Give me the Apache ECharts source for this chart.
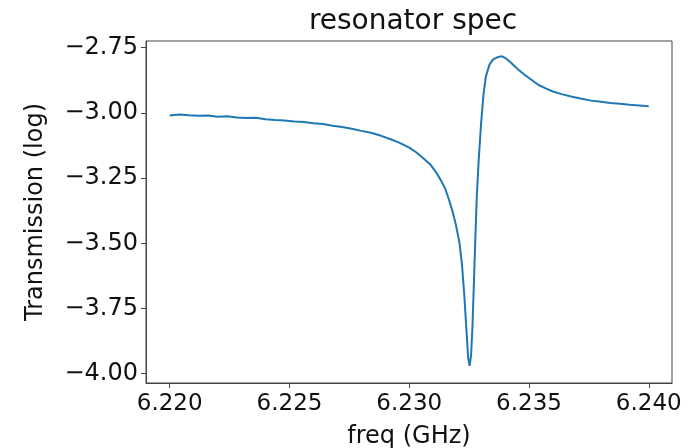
<!DOCTYPE html>
<html>
<head>
<meta charset="utf-8">
<script src="https://cdn.jsdelivr.net/npm/echarts@6/dist/echarts.min.js"></script>
<style>
  html, body { margin: 0; padding: 0; background: #fff; }
  #chart { width: 700px; height: 448px; }
</style>
</head>
<body>
<div id="chart"></div>
<script>
// frequency (GHz) and transmission (log)
const freq = [
  6.22000, 6.22040, 6.22080, 6.22120, 6.22160, 6.22200, 6.22240, 6.22280, 6.22320, 6.22360,
  6.22400, 6.22440, 6.22480, 6.22520, 6.22560, 6.22600, 6.22640, 6.22680, 6.22720, 6.22760,
  6.22800, 6.22840, 6.22880, 6.22920, 6.22960, 6.23000, 6.23030, 6.23060, 6.23090, 6.23110,
  6.23130, 6.23150, 6.23165, 6.23180, 6.23195, 6.23210, 6.23220, 6.23230, 6.23240, 6.23246,
  6.23252, 6.23258, 6.23264, 6.23270, 6.23276, 6.23282, 6.23290, 6.23300, 6.23310, 6.23320,
  6.23335, 6.23350, 6.23370, 6.23388, 6.23405, 6.23425, 6.23450, 6.23480, 6.23510, 6.23540,
  6.23570, 6.23600, 6.23640, 6.23680, 6.23720, 6.23760, 6.23800, 6.23840, 6.23880, 6.23920,
  6.23960, 6.24000
];
const trans = [
  -3.010, -3.006, -3.009, -3.011, -3.010, -3.015, -3.013, -3.018, -3.020, -3.019,
  -3.024, -3.027, -3.029, -3.033, -3.035, -3.040, -3.043, -3.049, -3.054, -3.061,
  -3.069, -3.076, -3.087, -3.100, -3.115, -3.133, -3.152, -3.175, -3.200, -3.225,
  -3.255, -3.290, -3.330, -3.375, -3.430, -3.500, -3.580, -3.700, -3.850, -3.940,
  -3.970, -3.930, -3.820, -3.650, -3.480, -3.320, -3.180, -3.040, -2.930, -2.860,
  -2.815, -2.795, -2.786, -2.783, -2.792, -2.808, -2.830, -2.853, -2.873, -2.893,
  -2.906, -2.918, -2.929, -2.938, -2.946, -2.953, -2.957, -2.962, -2.965, -2.969,
  -2.972, -2.975
];
const xTicks = [6.220, 6.225, 6.230, 6.235, 6.240];
const yTicks = [-4.00, -3.75, -3.50, -3.25, -3.00, -2.75];

const chart = echarts.init(document.getElementById('chart'));
const font = 'DejaVu Sans';
const axisColor = '#444';

const option = {
  animation: false,
  title: {
    text: 'resonator spec',
    left: 408,
    textAlign: 'center',
    top: 3,
    textStyle: { fontFamily: font, fontSize: 28, fontWeight: 'normal', color: '#111' }
  },
  grid: {
    left: 146, right: 28, top: 41, bottom: 65,
    outerBoundsMode: 'none',
    show: true, borderColor: axisColor, borderWidth: 1
  },
  xAxis: {
    type: 'value',
    min: 6.21901,
    max: 6.24097,
    name: 'freq (GHz)',
    nameLocation: 'middle',
    nameGap: 42,
    nameTextStyle: { fontFamily: font, fontSize: 24, color: '#111' },
    splitLine: { show: false },
    axisLine: { show: true, lineStyle: { color: axisColor, width: 1 } },
    axisTick: { show: true, customValues: xTicks, length: 5, lineStyle: { color: axisColor } },
    axisLabel: {
      customValues: xTicks,
      margin: 10,
      fontFamily: font, fontSize: 23, color: '#111',
      formatter: v => v.toFixed(3)
    }
  },
  yAxis: {
    type: 'value',
    min: -4.0356,
    max: -2.7244,
    name: 'Transmission (log)',
    nameLocation: 'middle',
    nameGap: 98,
    nameTextStyle: { fontFamily: font, fontSize: 24, color: '#111' },
    splitLine: { show: false },
    axisLine: { show: true, lineStyle: { color: axisColor, width: 1 } },
    axisTick: { show: true, customValues: yTicks, length: 5, lineStyle: { color: axisColor } },
    axisLabel: {
      customValues: yTicks,
      margin: 8,
      fontFamily: font, fontSize: 24, color: '#111',
      formatter: v => v.toFixed(2).replace('-', '\u2212')
    }
  },
  series: [{
    type: 'line',
    data: freq.map((f, i) => [f, trans[i]]),
    showSymbol: false,
    lineStyle: { color: '#1f77b4', width: 2 }
  }]
};
chart.setOption(option);
</script>
</body>
</html>
